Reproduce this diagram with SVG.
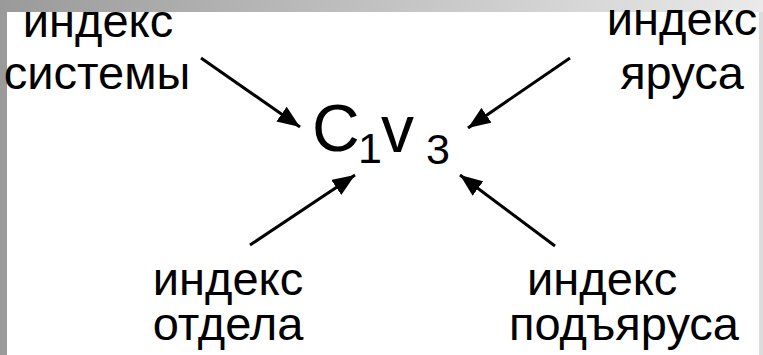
<svg xmlns="http://www.w3.org/2000/svg" width="763" height="355" viewBox="0 0 763 355">
<defs>
<linearGradient id="top" x1="0" y1="0" x2="1" y2="0">
<stop offset="0" stop-color="#9a9a9a"/>
<stop offset="1" stop-color="#eaeaea"/>
</linearGradient>
<marker id="ah" viewBox="0 0 10 10" refX="10" refY="5" markerWidth="7.5" markerHeight="6" markerUnits="strokeWidth" orient="auto" preserveAspectRatio="none">
<path d="M0,0 L10,5 L0,10 z" fill="#000"/>
</marker>
<style>
.t{font-family:"Liberation Sans",Arial,sans-serif;font-size:47px;fill:#000}
.c{stroke:#000;stroke-width:3;fill:none;marker-end:url(#ah)}
</style>
</defs>
<rect width="763" height="355" fill="#fff"/>
<rect x="0" y="0" width="763" height="12" fill="url(#top)"/>
<rect x="0" y="0" width="7" height="355" fill="#9a9a9a"/>
<rect x="759" y="12" width="4" height="343" fill="#dcdcdc"/>
<g id="sys"><text class="t" x="98" y="37" text-anchor="middle">индекс</text><text class="t" x="97" y="89" text-anchor="middle">системы</text></g>
<g id="yarus"><text class="t" x="682" y="35" text-anchor="middle">индекс</text><text class="t" x="682" y="89" text-anchor="middle">яруса</text></g>
<g id="otdel"><text class="t" x="228" y="295" text-anchor="middle">индекс</text><text class="t" x="228" y="340" text-anchor="middle">отдела</text></g>
<g id="podyarus"><text class="t" x="527" y="295">индекс</text><text class="t" x="509" y="340">подъяруса</text></g>
<g id="center">
<text class="t" x="312" y="151" style="font-size:66px">C</text>
<text class="t" x="358" y="163" style="font-size:43px">1</text>
<text class="t" x="381" y="152" style="font-size:66px">v</text>
<text class="t" x="426" y="164" style="font-size:43px">3</text>
</g>
<g id="connectors">
<line class="c" x1="201" y1="58" x2="300" y2="127"/>
<line class="c" x1="570" y1="58" x2="468" y2="128"/>
<line class="c" x1="250" y1="245" x2="355" y2="175"/>
<line class="c" x1="555" y1="246" x2="460" y2="175"/>
</g>
</svg>
